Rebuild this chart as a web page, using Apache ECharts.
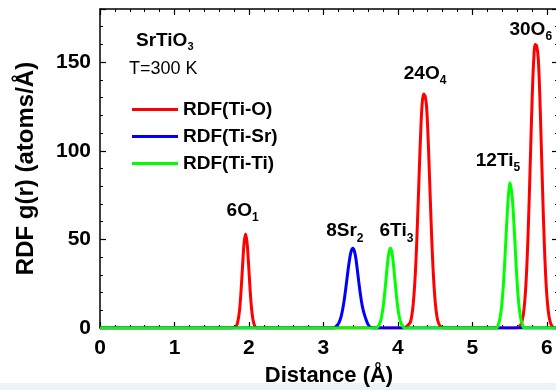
<!DOCTYPE html>
<html>
<head>
<meta charset="utf-8">
<script src="https://cdn.jsdelivr.net/npm/echarts@6/dist/echarts.min.js"></script>
<style>
html,body{margin:0;padding:0;background:#fff;}
#c{width:556px;height:390px;}
</style>
</head>
<body>
<div id="c"></div>
<script>
// Ti-O radial distribution (distance Å, g(r))
var rdfTiO = [
  [0,0],[1.78,0],[1.81,0.4],[1.835,1.5],[1.855,4.5],[1.875,10.5],[1.895,21.5],[1.915,35.5],[1.935,48],[1.955,53],[1.975,48],[1.995,36],[2.015,22],[2.035,11],[2.055,4.5],[2.075,1.5],[2.105,0],
  [4.08,0],[4.125,1.2],[4.165,3],[4.185,6.5],[4.205,13],[4.225,24],[4.245,40],[4.265,62],[4.285,86],[4.305,109],[4.325,126],[4.345,132],[4.365,131],[4.385,125],[4.405,108],[4.425,85],[4.445,61],[4.465,40],[4.485,24],[4.505,13],[4.525,6.4],[4.545,2.9],[4.565,1.2],[4.61,0],
  [5.58,0],[5.62,0.6],[5.645,1.5],[5.665,3.5],[5.685,7.7],[5.705,15.7],[5.725,29],[5.745,49],[5.765,75],[5.785,104],[5.805,132],[5.825,152],[5.845,160],[5.865,159],[5.885,152],[5.905,132],[5.925,104],[5.945,75],[5.965,49],[5.985,29],[6.005,15.7],[6.025,7.7],[6.045,3.5],[6.065,1.4],[6.105,0],[6.15,0]
];
// Ti-Sr radial distribution
var rdfTiSr = [
  [0,0],[3.14,0],[3.16,0.5],[3.195,2],[3.215,3.6],[3.235,6],[3.255,9.7],[3.275,14.6],[3.295,20.6],[3.315,27.3],[3.335,34],[3.355,39.7],[3.375,43.6],[3.395,45],[3.415,43.5],[3.435,39.5],[3.455,33],[3.475,26],[3.495,19.5],[3.515,14],[3.535,10],[3.555,7],[3.575,4.5],[3.595,2.3],[3.62,0.8],[3.66,0],[6.15,0]
];
// Ti-Ti radial distribution
var rdfTiTi = [
  [0,0],[3.71,0],[3.74,1.3],[3.76,3],[3.78,6.1],[3.80,11.2],[3.82,18.5],[3.84,27.3],[3.86,36],[3.88,42.6],[3.90,45],[3.92,42.6],[3.94,36],[3.96,27.3],[3.98,18.5],[4.00,11.2],[4.02,6.1],[4.04,3],[4.06,1.3],[4.09,0],
  [5.32,0],[5.35,2.3],[5.37,5.4],[5.39,11.1],[5.41,20.4],[5.43,33.7],[5.45,49.8],[5.47,65.6],[5.49,77.6],[5.505,82],[5.52,79],[5.535,74],[5.55,65],[5.57,49.8],[5.59,33.7],[5.61,20.4],[5.63,11.1],[5.65,5.4],[5.67,2.3],[5.70,0],[6.15,0]
];
var seriesNames = ['RDF(Ti-O)','RDF(Ti-Sr)','RDF(Ti-Ti)'];
var seriesColors = ['#ff0000','#0000ff','#00ff00'];
var xTicks = [0,1,2,3,4,5,6];
var yTicks = [0,50,100,150];
// peak annotations: series index, peak position, text, subscript
var peakSeries = [0,1,2,0,2,0];
var peakPos = [[1.955,53],[3.395,45],[3.90,45],[4.365,132],[5.505,82],[5.865,160]];
var peakMain = ['6O','8Sr','6Ti','24O','12Ti','30O'];
var peakSub = ['1','2','3','4','5','6'];
var peakOffset = [[-3,-23],[-8,-17],[6,-17],[0,-20],[-12,-22],[-6,-15]];

var FONT = 'Liberation Sans, Arial, Helvetica, sans-serif';
var chart = echarts.init(document.getElementById('c'), null, {renderer:'canvas'});

function marks(si){
  var d = [];
  for (var i=0;i<peakSeries.length;i++){
    if (peakSeries[i]!==si) continue;
    d.push({
      coord: peakPos[i],
      symbolSize: 0,
      label: {
        show: true, position: 'inside', offset: peakOffset[i],
        formatter: '{a|' + peakMain[i] + '}{s|' + peakSub[i] + '}'
      }
    });
  }
  return d;
}
var rich = {
  a: {fontSize: 19, fontWeight: 'bold', color: '#000', fontFamily: FONT, lineHeight: 26, verticalAlign: 'middle'},
  s: {fontSize: 12, fontWeight: 'bold', color: '#000', fontFamily: FONT, lineHeight: 26, verticalAlign: 'bottom'}
};
var dataSets = [rdfTiO, rdfTiSr, rdfTiTi];
var series = dataSets.map(function(d, i){
  return {
    name: seriesNames[i], type: 'line', data: d, smooth: 0.35, showSymbol: false, symbol: 'none',
    xAxisIndex: 0, yAxisIndex: 0,
    lineStyle: {color: seriesColors[i], width: 3},
    itemStyle: {color: seriesColors[i]},
    z: 2 + i,
    markPoint: {symbol: 'circle', symbolSize: 0, silent: true, label: {rich: rich}, data: marks(i)},
    animation: false
  };
});

var axisCommon = {
  type: 'value', splitLine: {show: false},
  axisLine: {show: true, onZero: false, lineStyle: {color: '#000', width: 1.5}},
  axisTick: {show: true, inside: true, length: 6, lineStyle: {color: '#000', width: 1.2}},
  minorTick: {show: true, splitNumber: 5, length: 3, lineStyle: {color: '#000', width: 1}}
};

chart.setOption({
  backgroundColor: '#ffffff',
  animation: false,
  grid: {left: 100, top: 9, width: 458, height: 319, containLabel: false, outerBoundsMode: 'none'},
  legend: {
    data: seriesNames, orient: 'vertical', left: 127, top: 95,
    itemWidth: 46, itemHeight: 3, itemGap: 8, icon: 'rect',
    textStyle: {fontFamily: FONT, fontSize: 19, fontWeight: 'bold', color: '#000'},
    selectedMode: false
  },
  xAxis: [
    Object.assign({}, axisCommon, {
      min: 0, max: 6.15, interval: 1, position: 'bottom',
      axisLabel: {fontFamily: FONT, fontSize: 21, fontWeight: 'bold', color: '#000', margin: 10,
        formatter: function(v){ return xTicks.indexOf(v) >= 0 ? String(v) : ''; }},
      name: 'Distance (Å)', nameLocation: 'middle', nameGap: 37,
      nameTextStyle: {fontFamily: FONT, fontSize: 22, fontWeight: 'bold', color: '#000'}
    }),
    Object.assign({}, axisCommon, {min: 0, max: 6.15, interval: 1, position: 'top', axisLabel: {show: false}})
  ],
  yAxis: [
    Object.assign({}, axisCommon, {
      min: 0, max: 180, interval: 50, position: 'left',
      axisLabel: {fontFamily: FONT, fontSize: 21, fontWeight: 'bold', color: '#000', margin: 9,
        formatter: function(v){ return yTicks.indexOf(v) >= 0 ? String(v) : ''; }},
      name: 'RDF g(r) (atoms/Å)', nameLocation: 'middle', nameGap: 62,
      nameTextStyle: {fontFamily: FONT, fontSize: 24, fontWeight: 'bold', color: '#000'}
    }),
    Object.assign({}, axisCommon, {min: 0, max: 180, interval: 50, position: 'right', axisLabel: {show: false}})
  ],
  graphic: [
    {type: 'rect', left: 0, top: 383, shape: {width: 556, height: 7}, style: {fill: '#edf2f8'}, silent: true, z: -1},
    {type: 'text', left: 136, top: 31, style: {
      text: '{a|SrTiO}{s|3}', fill: '#000',
      rich: {
        a: {fontSize: 19, fontWeight: 'bold', fontFamily: FONT, fill: '#000', lineHeight: 24, verticalAlign: 'middle'},
        s: {fontSize: 11, fontWeight: 'bold', fontFamily: FONT, fill: '#000', lineHeight: 24, verticalAlign: 'bottom'}
      }}},
    {type: 'text', left: 129, top: 60, style: {text: 'T=300 K', fontSize: 18, fontFamily: FONT, fill: '#000'}}
  ],
  series: series
});
</script>
</body>
</html>
